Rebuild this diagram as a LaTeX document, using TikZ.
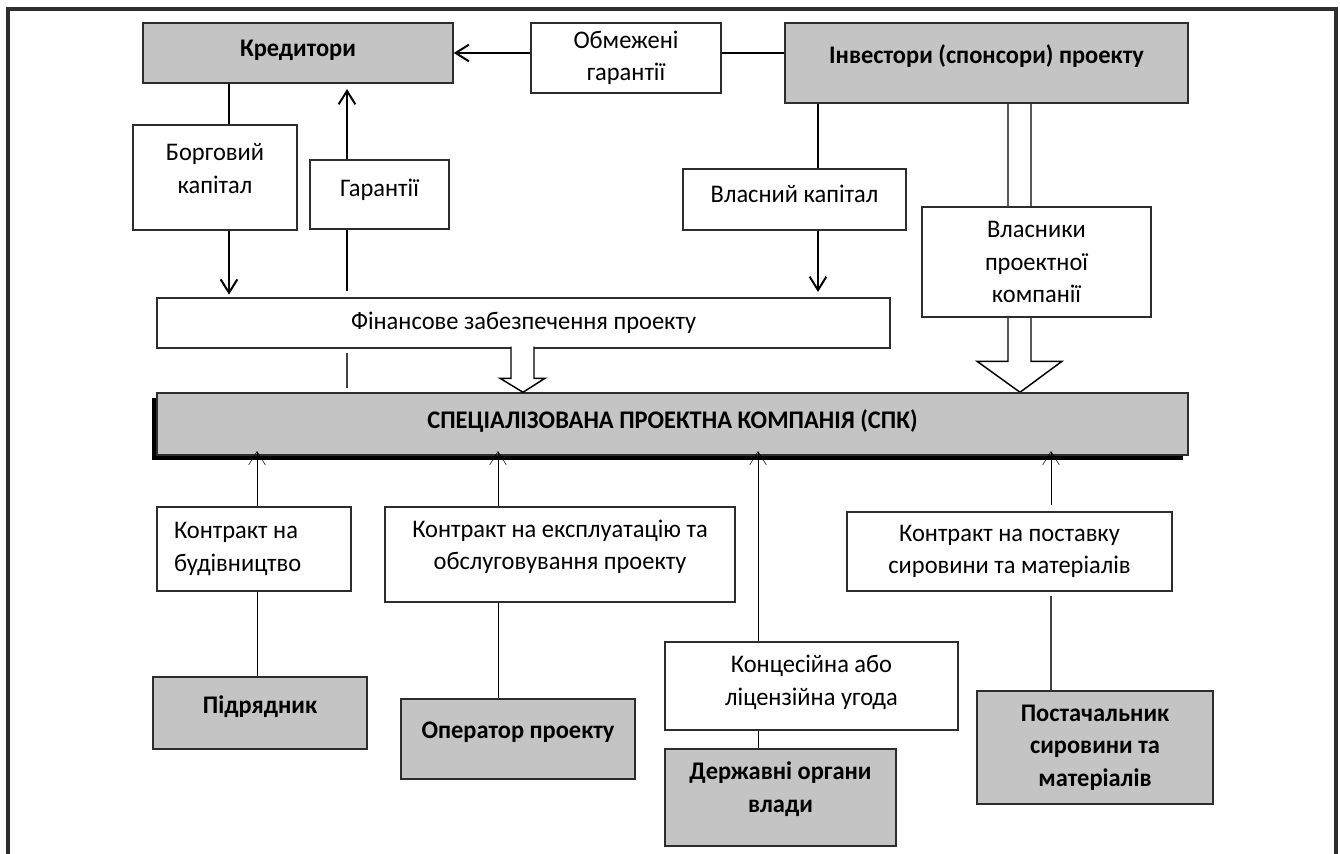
\documentclass[tikz,border=0pt]{standalone}
\usepackage{fontspec}
\setmainfont{Carlito}[FakeStretch=0.965]
\usetikzlibrary{arrows.meta,shadows,backgrounds,calc}
\definecolor{partygrey}{RGB}{196,196,196}
\definecolor{edgegrey}{RGB}{45,45,45}

\begin{document}
\begin{tikzpicture}[x=0.75pt,y=-0.75pt,>={Straight Barb[length=10pt,width=12.5pt]},line width=1.5pt,
        font=\fontsize{19}{24.4}\selectfont]
        \tikzstyle{doc}=[draw=edgegrey, line width=1.1pt, fill=white, inner sep=0pt, align=center]
        \tikzstyle{party}=[doc, fill=partygrey, font=\fontsize{19}{24.4}\selectfont\bfseries]
        \tikzstyle{hollow}=[draw=black, line width=1.1pt, fill=white]
        \tikzstyle{faint}=[line width=0.8pt, draw=black!75]
        \tikzset{boxsize/.style 2 args={minimum width=#1*0.75pt, minimum height=#2*0.75pt},
                 lift/.style={execute at end node={\rule[-#1]{0pt}{0pt}}},
                 sink/.style={execute at begin node={\rule{0pt}{#1}}}}

        \useasboundingbox (0,0) rectangle (1340,854);
        \draw[line width=2.4pt, edgegrey] (8,854) -- (8,9) -- (1336,9) -- (1336,854);

        % parties on top
        \node[party, boxsize={310}{60}, lift=7.5pt]  (kred) at (298,53)    {Кредитори};
        \node[doc, boxsize={190}{70}]                (obm)  at (626,58)    {Обмежені\\гарантії};
        \node[party, boxsize={403}{80}, lift=14pt]   (inv)  at (986.5,63)  {Інвестори (спонсори) проекту};

        % capital and guarantees
        \node[doc, boxsize={164}{105}, lift=13.5pt]  (bor)  at (215,177.5)  {Борговий\\капітал};
        \node[doc, boxsize={139}{69}, lift=10.5pt]   (gar)  at (379.5,194.5){Гарантії};
        \node[doc, boxsize={223}{61}, lift=9pt]      (vk)   at (794.5,199.5){Власний капітал};
        \node[doc, boxsize={229}{110}]               (vl)   at (1036.5,262) {Власники\\проектної\\компанії};
        \node[doc, boxsize={733}{50}]                (fin)  at (523.5,323)  {Фінансове забезпечення проекту};

        % the project company
        \node[party, boxsize={1031}{62}, lift=8pt,
              drop shadow={shadow xshift=-3.75pt, shadow yshift=-3.75pt, fill=black, opacity=1}]
              (spk) at (672.5,424) {СПЕЦІАЛІЗОВАНА ПРОЕКТНА КОМПАНІЯ (СПК)};

        % contracts and parties below
        \node[doc, boxsize={194}{84}, align=flush left, text width=120pt] (kb) at (254,549) {Контракт на\\будівництво};
        \node[doc, boxsize={350}{95}, lift=14.3pt]   (eks)  at (560,554.5)  {Контракт на експлуатацію та\\обслуговування проекту};
        \node[doc, boxsize={293}{88}, lift=8.3pt]    (konc) at (811.5,686)  {Концесійна або\\ліцензійна угода};
        \node[doc, boxsize={325}{79}, sink=16.5pt]   (kp)   at (1009.5,551.5){Контракт на поставку\\сировини та матеріалів};
        \node[party, boxsize={214}{72}, lift=12pt]   (pidr) at (260,713)    {Підрядник};
        \node[party, boxsize={234}{80}, lift=13pt]   (oper) at (518,739)    {Оператор проекту};
        \node[party, boxsize={231}{97}, lift=15.8pt] (derzh) at (780.5,797.5){Державні органи\\влади};
        \node[party, boxsize={236}{113}]             (post) at (1095,747.5) {Постачальник\\сировини та\\матеріалів};

        \coordinate (rowObm)  at (0,53);
        \coordinate (colBor)  at (229,0);
        \coordinate (colGar)  at (347,0);
        \coordinate (colVk)   at (818,0);
        \coordinate (colOwn)  at (1020,0);
        \coordinate (colFin)  at (523,0);
        \coordinate (colKb)   at (257,0);
        \coordinate (colEks)  at (498,0);
        \coordinate (colKonc) at (758,0);
        \coordinate (colKp)   at (1051,0);

        \draw[->] (obm.west |- rowObm) -- (kred.east |- rowObm);
        \draw (inv.west |- rowObm) -- (obm.east |- rowObm);
        \draw (kred.south -| colBor) -- (bor.north -| colBor);
        \draw[->, shorten >=2pt] (bor.south -| colBor) -- (fin.north -| colBor);
        \draw[->, shorten >=4pt] (gar.north -| colGar) -- (kred.south -| colGar);
        \draw[shorten >=4.5pt] (gar.south -| colGar) -- (fin.north -| colGar);
        \draw[faint, shorten <=3pt, shorten >=3pt] (fin.south -| colGar) -- (spk.north -| colGar);
        \draw (inv.south -| colVk) -- (vk.north -| colVk);
        \draw[->, shorten >=4pt] (vk.south -| colVk) -- (fin.north -| colVk);

        % wide arrows
        \begin{pgfonlayer}{background}
          \filldraw[hollow] ($(inv.south -| colOwn)+(-12,0)$) -- ($(spk.north -| colOwn)+(-12,-31)$) -- ++(-31,0)
                -- (spk.north -| colOwn) -- ++(42,-31) -- ++(-31,0) -- ($(inv.south -| colOwn)+(11,0)$);
        \end{pgfonlayer}
        \filldraw[hollow] ($(fin.south -| colFin)+(-12,-2)$) -- ($(spk.north -| colFin)+(-12,-14)$) -- ++(-11,0)
              -- (spk.north -| colFin) -- ++(22,-14) -- ++(-11,0) -- ($(fin.south -| colFin)+(11,-2)$);

        % contracts into the company
        \draw[->, shorten >=-3.5pt] (kb.north -| colKb) -- (spk.south -| colKb);
        \draw[->, shorten >=-3.5pt] (eks.north -| colEks) -- (spk.south -| colEks);
        \draw[->, shorten >=-3.5pt] (konc.north -| colKonc) -- (spk.south -| colKonc);
        \draw[->, shorten >=-3.5pt, shorten <=5pt] (kp.north -| colKp) -- (spk.south -| colKp);
        \draw (kb.south -| colKb) -- (pidr.north -| colKb);
        \draw (eks.south -| colEks) -- (oper.north -| colEks);
        \draw (konc.south -| colKonc) -- (derzh.north -| colKonc);
        \draw[faint, shorten <=3pt] (kp.south -| colKp) -- (post.north -| colKp);
\end{tikzpicture}
\end{document}
